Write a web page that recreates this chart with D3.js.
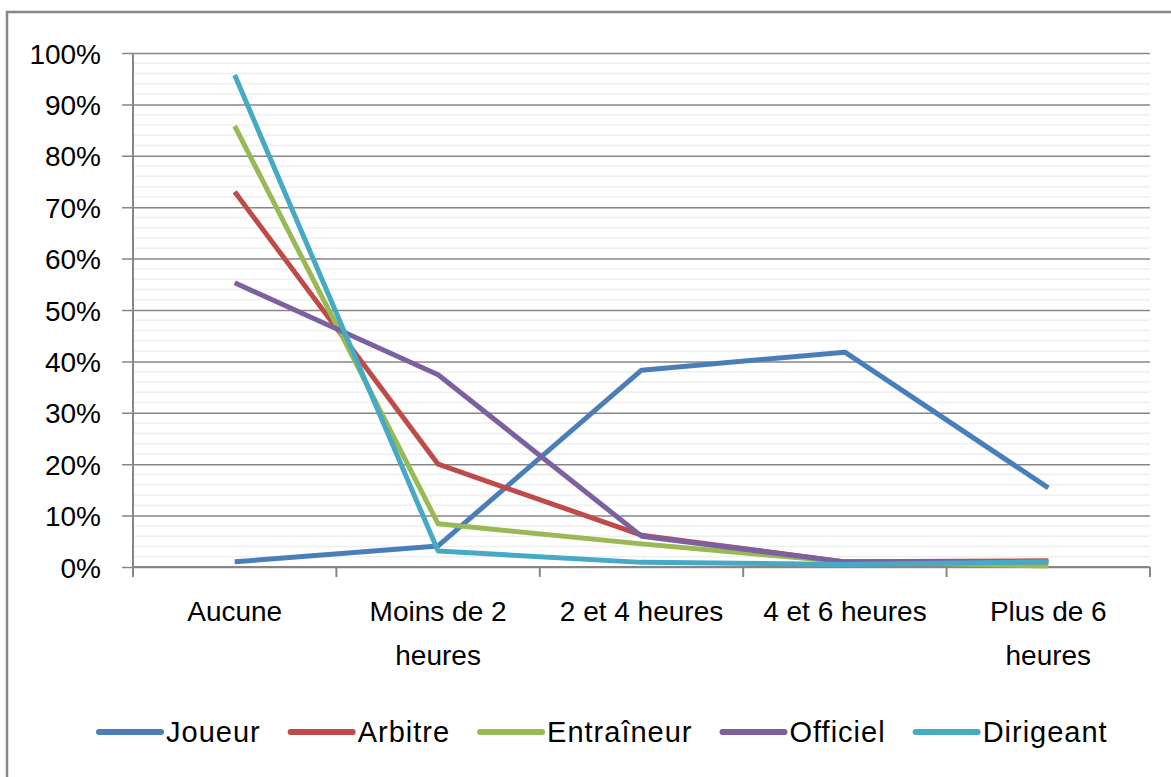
<!DOCTYPE html>
<html>
<head>
<meta charset="utf-8">
<script src="https://cdn.jsdelivr.net/npm/d3@7"></script>
<style>
  body { margin: 0; background: #fff; }
  svg text { font-family: "Liberation Sans", Arial, sans-serif; fill: #000; }
</style>
</head>
<body>
<div id="chart"></div>
<script>
// categories and series (percentages)
const categories = ["Aucune", "Moins de 2 heures", "2 et 4 heures", "4 et 6 heures", "Plus de 6 heures"];
const categoryLines = [["Aucune"], ["Moins de 2", "heures"], ["2 et 4 heures"], ["4 et 6 heures"], ["Plus de 6", "heures"]];
const seriesNames = ["Joueur", "Arbitre", "Entraîneur", "Officiel", "Dirigeant"];
const joueur = [1.0, 4.1, 38.3, 41.8, 15.4];
const arbitre = [73, 20, 6.2, 1.0, 1.2];
const entraineur = [85.8, 8.4, 4.5, 1.0, 0.2];
const officiel = [55.3, 37.4, 6.0, 1.0, 1.0];
const dirigeant = [95.7, 3.1, 0.9, 0.5, 1.0];
const colors = ["#4a7ebb", "#be4b48", "#98b954", "#7d60a0", "#46aac5"];
const yTicks = [0, 10, 20, 30, 40, 50, 60, 70, 80, 90, 100];

const seriesValues = [joueur, arbitre, entraineur, officiel, dirigeant];

const W = 1171, H = 777;
const margin = { top: 53, right: 21, bottom: 210, left: 133 };
const width = W - margin.left - margin.right;
const height = H - margin.top - margin.bottom;

const svg = d3.select("#chart").append("svg")
    .attr("width", W)
    .attr("height", H);

// outer chart frame
svg.append("rect")
    .attr("x", 7).attr("y", 12)
    .attr("width", 1300).attr("height", 900)
    .attr("fill", "none")
    .attr("stroke", "#868686")
    .attr("stroke-width", 2.5);

const g = svg.append("g").attr("transform", `translate(${margin.left},${margin.top})`);

const x = d3.scaleBand().domain(categories).range([0, width]);
const y = d3.scaleLinear().domain([0, 100]).range([height, 0]);

// minor gridlines every 2%
g.append("g")
    .selectAll("line")
    .data(d3.range(0, 101, 2).filter(v => v % 10 !== 0))
    .enter().append("line")
    .attr("x1", 0).attr("x2", width)
    .attr("y1", d => y(d)).attr("y2", d => y(d))
    .attr("stroke", "#efefef")
    .attr("stroke-width", 1.5);

// y axis with major gridlines
const yAxis = g.append("g")
    .call(d3.axisLeft(y).tickValues(yTicks).tickFormat(d => d + "%").tickSize(11).tickPadding(21));
yAxis.select(".domain").remove();
yAxis.selectAll("line").attr("stroke", "#868686").attr("stroke-width", 1.5).attr("x2", width).attr("x1", -11);
yAxis.selectAll("text").style("font-size", "28px").attr("dy", "0.36em");

g.append("line")
    .attr("x1", 0).attr("x2", 0)
    .attr("y1", 0).attr("y2", height + 10)
    .attr("stroke", "#868686").attr("stroke-width", 2);

// x axis
g.append("line")
    .attr("x1", 0).attr("x2", width)
    .attr("y1", height).attr("y2", height)
    .attr("stroke", "#868686").attr("stroke-width", 2);

g.append("g")
    .selectAll("line")
    .data(categories)
    .enter().append("line")
    .attr("x1", d => x(d) + x.bandwidth()).attr("x2", d => x(d) + x.bandwidth())
    .attr("y1", height).attr("y2", height + 10)
    .attr("stroke", "#868686").attr("stroke-width", 2);

const labels = g.append("g")
    .selectAll("text")
    .data(categories)
    .enter().append("text")
    .attr("text-anchor", "middle")
    .attr("transform", d => `translate(${x(d) + x.bandwidth() / 2},${height + 54})`)
    .style("font-size", "28px");
labels.each(function (d, i) {
    d3.select(this).selectAll("tspan")
        .data(categoryLines[i])
        .enter().append("tspan")
        .attr("x", 0)
        .attr("dy", (t, j) => j === 0 ? 0 : 44)
        .text(t => t);
});

// lines
const line = d3.line()
    .x((d, i) => x(categories[i]) + x.bandwidth() / 2)
    .y(d => y(d));

g.selectAll(".series")
    .data(seriesValues)
    .enter().append("path")
    .attr("class", "series")
    .attr("d", d => line(d))
    .attr("fill", "none")
    .attr("stroke", (d, i) => colors[i])
    .attr("stroke-width", 5)
    .attr("stroke-linejoin", "round");

// legend
const legend = svg.append("g").attr("transform", "translate(97,732)");
let lx = 0;
seriesNames.forEach((name, i) => {
    const item = legend.append("g").attr("transform", `translate(${lx},0)`);
    item.append("line")
        .attr("x1", 2).attr("x2", 64)
        .attr("y1", 0).attr("y2", 0)
        .attr("stroke", colors[i])
        .attr("stroke-width", 6)
        .attr("stroke-linecap", "round");
    const t = item.append("text")
        .attr("x", 69).attr("y", 0).attr("dy", "0.36em")
        .style("font-size", "29px")
        .style("letter-spacing", "1px")
        .text(name);
    lx += 69 + t.node().getComputedTextLength() + 28;
});
</script>
</body>
</html>
